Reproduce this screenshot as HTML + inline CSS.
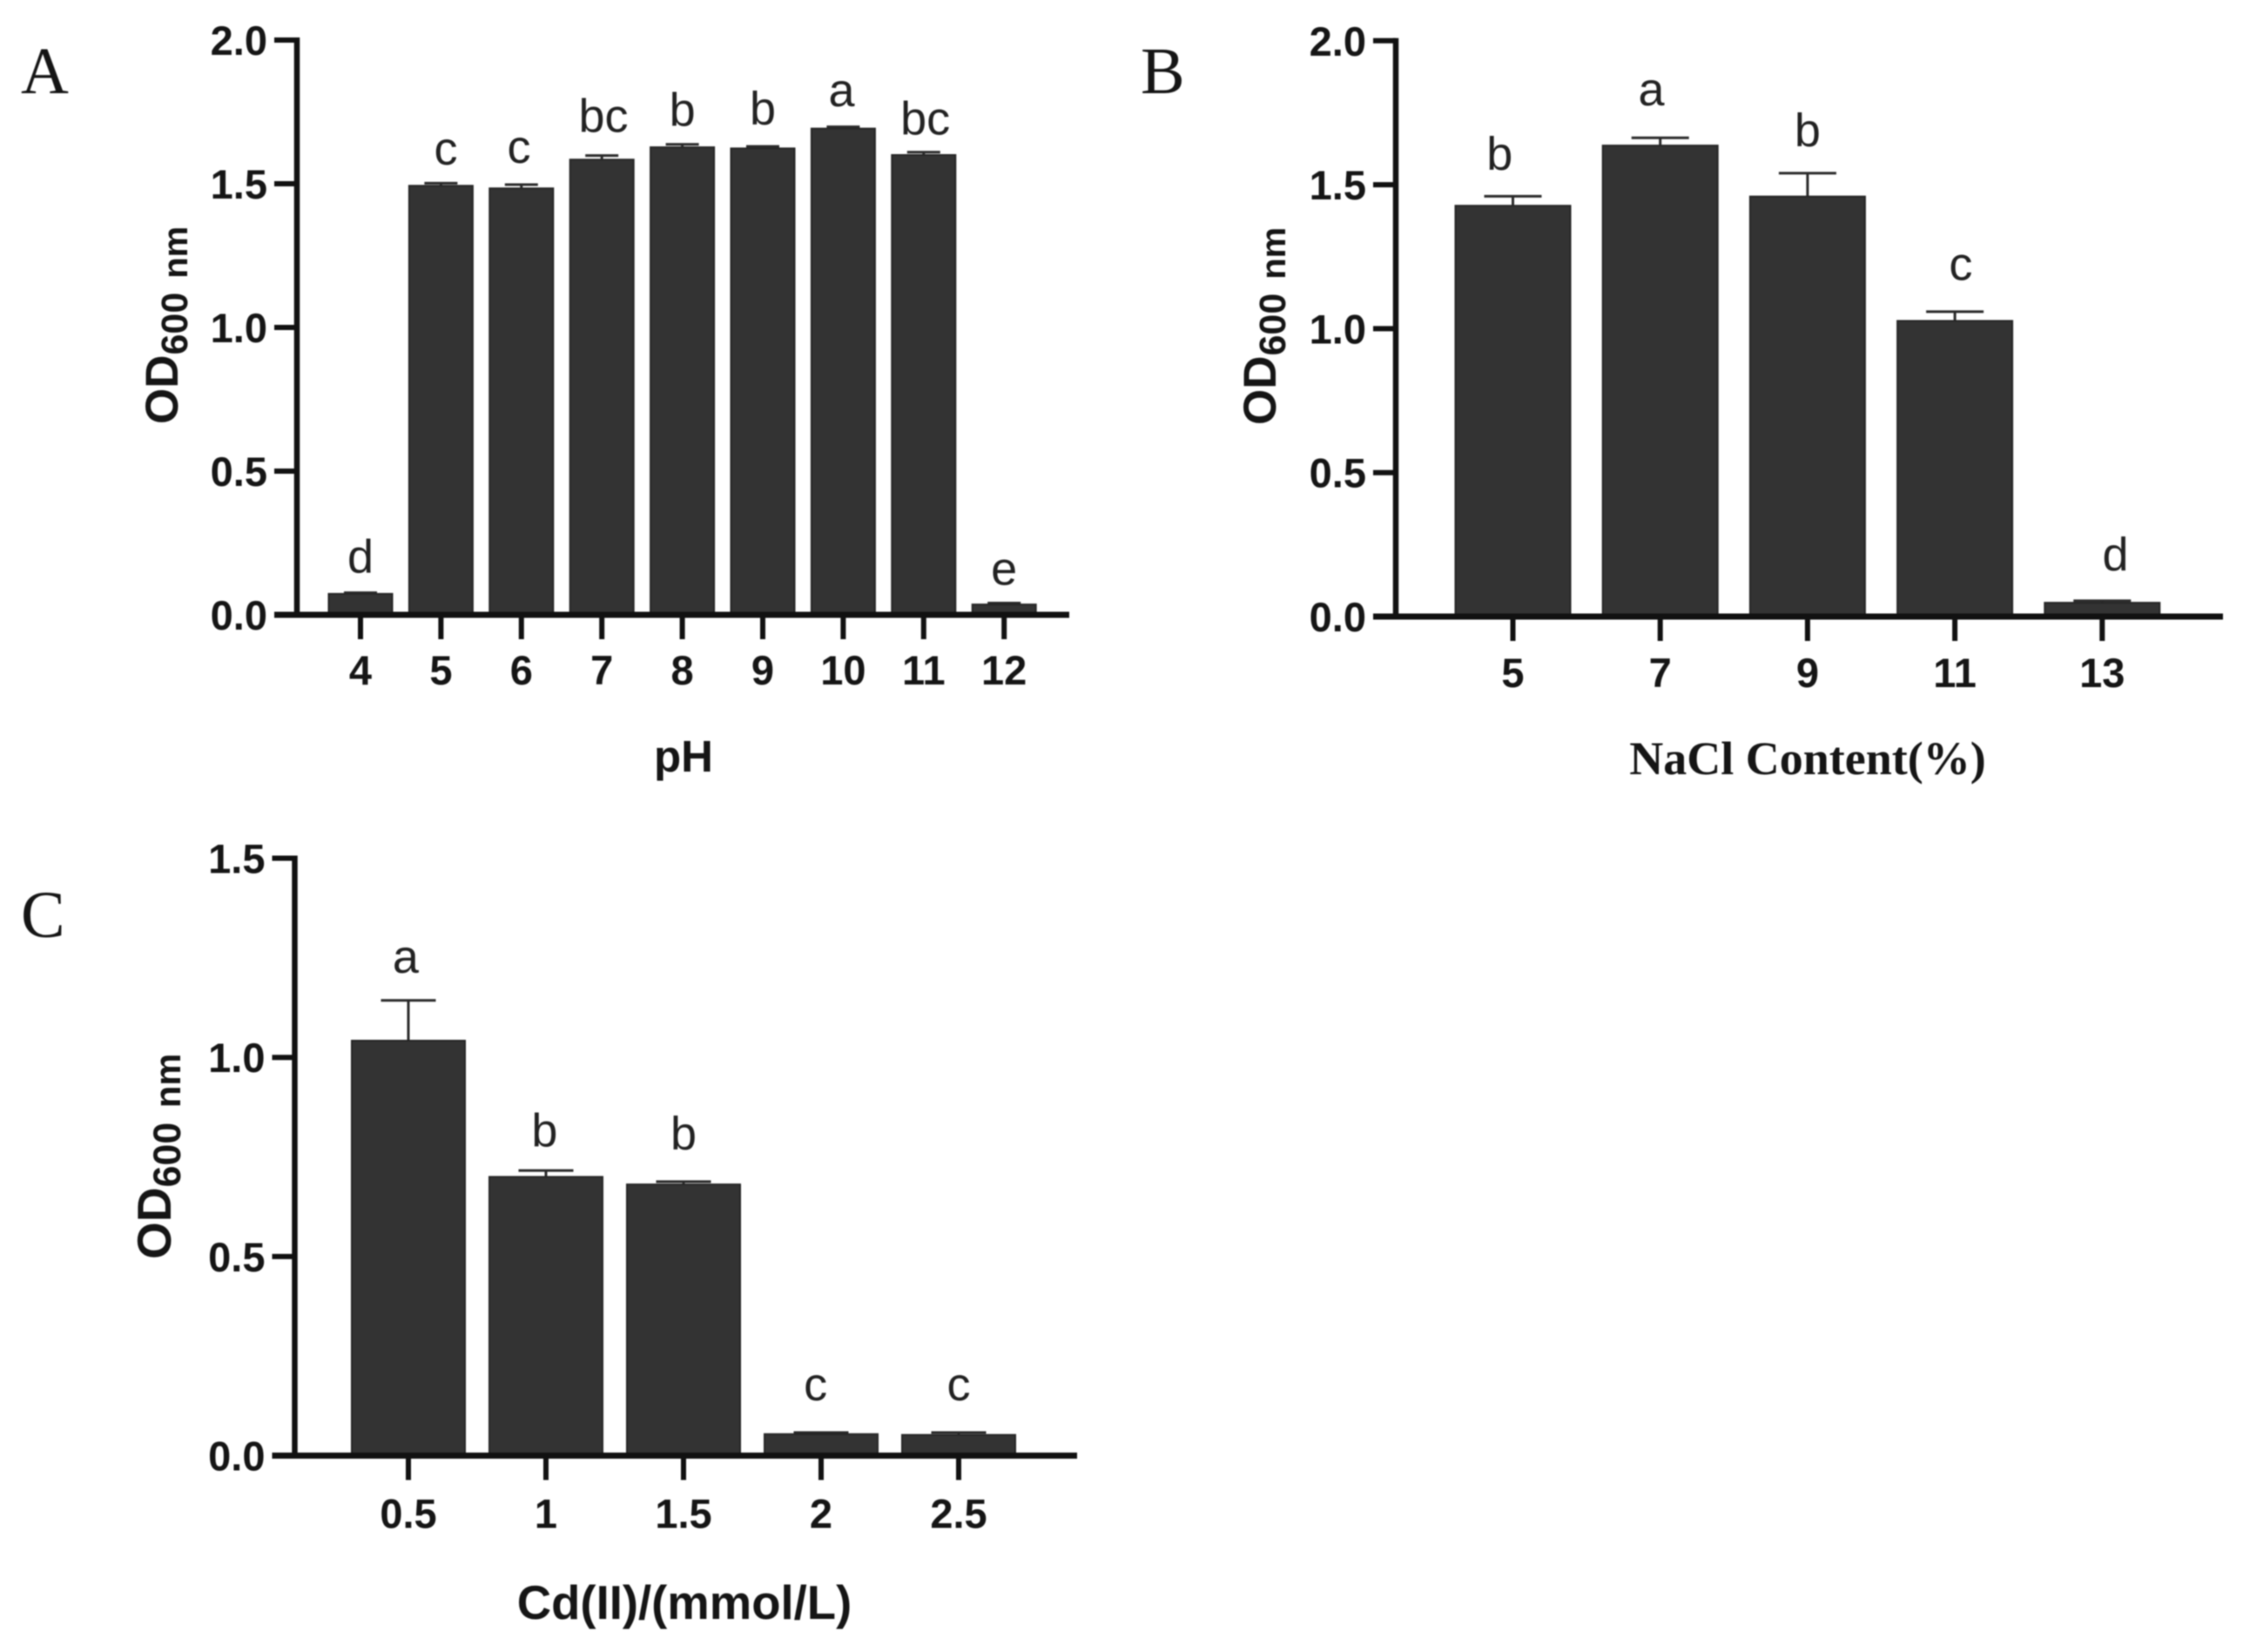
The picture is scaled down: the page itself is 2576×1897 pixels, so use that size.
<!DOCTYPE html>
<html lang="en">
<head>
<meta charset="utf-8">
<title>OD600 growth under pH, NaCl and Cd(II) conditions</title>
<style>
html,body{margin:0;padding:0;background:#fff;width:2576px;height:1897px;overflow:hidden}
svg{display:block;filter:blur(0.8px)}
text{fill:#151515}
.tick{font:bold 47px "Liberation Sans",sans-serif}
.sig{font:54px "Liberation Sans",sans-serif;fill:#222}
.ttl{font:bold 48px "Liberation Sans",sans-serif}
.pl{font:76px "Liberation Serif",serif}
</style>
</head>
<body>
<svg id="figure" xmlns="http://www.w3.org/2000/svg" width="2576" height="1897" viewBox="0 0 2576 1897"></svg>
<script>
/* Panel A data */
const categoriesA = ['4','5','6','7','8','9','10','11','12'];
const valuesA = [0.073,1.493,1.484,1.584,1.627,1.623,1.692,1.600,0.036];
const errorsA = [0.004,0.009,0.013,0.014,0.010,0.007,0.006,0.010,0.005];
const lettersA = ['d','c','c','bc','b','b','a','bc','e'];
const letterLiftA = [0.070,0.064,0.076,0.082,0.065,0.076,0.071,0.061,0.064];
const letterShiftA = [0,0.06,-0.03,0.02,0,0,-0.02,0.02,0];
const yTicksA = [0,0.5,1,1.5,2];

/* Panel B data */
const categoriesB = ['5','7','9','11','13'];
const valuesB = [1.427,1.636,1.459,1.027,0.048];
const errorsB = [0.033,0.027,0.081,0.032,0.007];
const lettersB = ['b','a','b','c','d'];
const letterLiftB = [0.091,0.112,0.094,0.110,0.106];
const letterShiftB = [-0.09,-0.06,0,0.04,0.09];
const yTicksB = [0,0.5,1,1.5,2];

/* Panel C data */
const categoriesC = ['0.5','1','1.5','2','2.5'];
const valuesC = [1.042,0.700,0.681,0.054,0.052];
const errorsC = [0.101,0.016,0.007,0.004,0.006];
const lettersC = ['a','b','b','c','c'];
const letterLiftC = [0.070,0.060,0.081,0.081,0.081];
const letterShiftC = [-0.02,-0.01,0,-0.04,0];
const yTicksC = [0,0.5,1,1.5];

const svg = document.getElementById('figure');
const NS = 'http://www.w3.org/2000/svg';

function el(tag, attrs, parent) {
  const node = document.createElementNS(NS, tag);
  for (const k in attrs) node.setAttribute(k, attrs[k]);
  parent.appendChild(node);
  return node;
}

function drawPanel(p) {
  const g = el('g', {}, svg);
  
  

  const xAt = i => p.firstX + p.step * i;
  const yAt = v => p.baseY - v * p.unitPx;

  p.values.forEach((v, i) => {
    const cx = xAt(i);
    const top = yAt(v);
    const capY = yAt(v + p.errors[i]);

    const whisker = el('line', {x1: cx, x2: cx, y1: capY, y2: top, stroke: '#2a2a2a', 'stroke-width': 3}, g);
    
    

    const cap = el('line', {x1: cx - p.capW / 2, x2: cx + p.capW / 2, y1: capY, y2: capY, stroke: '#2a2a2a', 'stroke-width': 3}, g);
    
    

    const bar = el('rect', {x: cx - p.barW / 2, y: top, width: p.barW, height: p.baseY - top, fill: '#333333', stroke: '#262626', 'stroke-width': 2}, g);
    
    

    const sig = el('text', {class: 'sig', x: cx + p.letterShift[i] * p.step, y: yAt(v + p.errors[i] + p.letterLift[i]), 'text-anchor': 'middle'}, g);
    sig.textContent = p.letters[i];
    
    

    const tick = el('line', {x1: cx, x2: cx, y1: p.baseY, y2: p.baseY + 28, stroke: '#111', 'stroke-width': 6}, g);
    
    

    const label = el('text', {class: 'tick', x: cx, y: p.baseY + p.xLabelDy, 'text-anchor': 'middle'}, g);
    label.textContent = p.categories[i];
    
    
  });

  const xAxis = el('line', {x1: p.axisX - 26, x2: p.axisEnd, y1: p.baseY, y2: p.baseY, stroke: '#111', 'stroke-width': 7}, g);
  
  

  const maxTick = p.yTicks[p.yTicks.length - 1];
  const yAxis = el('line', {x1: p.axisX, x2: p.axisX, y1: yAt(maxTick) - 3, y2: p.baseY, stroke: '#111', 'stroke-width': 6.5}, g);
  
  

  p.yTicks.forEach(t => {
    const ty = yAt(t);
    const tick = el('line', {x1: p.axisX - 26, x2: p.axisX, y1: ty, y2: ty, stroke: '#111', 'stroke-width': 6}, g);
    
    

    const label = el('text', {class: 'tick', x: p.axisX - 34, y: ty + 17, 'text-anchor': 'end'}, g);
    label.textContent = t.toFixed(1);
    
    
  });

  /* y-axis title with subscript */
  const yt = el('text', {transform: 'translate(' + p.yTitleX + ',' + p.yTitleY + ') rotate(-90)', class: 'ttl'}, g);
  
  
  const od = el('tspan', {'font-size': 53 * p.yTitleScale}, yt);
  od.textContent = 'OD';
  const sub = el('tspan', {'font-size': 43 * p.yTitleScale, dy: 11}, yt);
  sub.textContent = '600';
  const unit = el('tspan', {'font-size': 40 * p.yTitleScale, dx: 16 * p.yTitleScale}, yt);
  unit.textContent = 'nm';

  const xt = el('text', {x: p.xTitleX, y: p.xTitleY, 'text-anchor': 'middle', class: 'ttl', style: p.xTitleStyle}, g);
  xt.textContent = p.xTitle;
  
  

  const pl = el('text', {class: 'pl', x: p.panelX, y: p.panelY}, g);
  pl.textContent = p.panel;
  
  
}

drawPanel({
  name: 'panel-a-ph', panel: 'A', panelX: 24, panelY: 107,
  categories: categoriesA, values: valuesA, errors: errorsA, letters: lettersA,
  letterLift: letterLiftA, letterShift: letterShiftA, yTicks: yTicksA,
  firstX: 414, step: 92.4, barW: 73, capW: 38, axisX: 341, axisEnd: 1228, baseY: 706, unitPx: 330,
  xLabelDy: 80, yTitleX: 204, yTitleY: 487, yTitleScale: 1,
  xTitle: 'pH', xTitleX: 785, xTitleY: 886, xTitleStyle: 'font-size:51px'
});

drawPanel({
  name: 'panel-b-nacl', panel: 'B', panelX: 1310, panelY: 107,
  categories: categoriesB, values: valuesB, errors: errorsB, letters: lettersB,
  letterLift: letterLiftB, letterShift: letterShiftB, yTicks: yTicksB,
  firstX: 1737.5, step: 169.2, barW: 132, capW: 66, axisX: 1603, axisEnd: 2553, baseY: 708, unitPx: 330.6,
  xLabelDy: 81, yTitleX: 1465, yTitleY: 488, yTitleScale: 1,
  xTitle: 'NaCl Content(%)', xTitleX: 2076, xTitleY: 889,
  xTitleStyle: 'font-family:"Liberation Serif",serif;font-size:54px'
});

drawPanel({
  name: 'panel-c-cadmium', panel: 'C', panelX: 24, panelY: 1076,
  categories: categoriesC, values: valuesC, errors: errorsC, letters: lettersC,
  letterLift: letterLiftC, letterShift: letterShiftC, yTicks: yTicksC,
  firstX: 469, step: 158, barW: 130, capW: 63, axisX: 338.5, axisEnd: 1237, baseY: 1671.5, unitPx: 457.3,
  xLabelDy: 83, yTitleX: 196, yTitleY: 1446, yTitleScale: 1.04,
  xTitle: 'Cd(II)/(mmol/L)', xTitleX: 786, xTitleY: 1859, xTitleStyle: 'font-size:54.5px'
});
</script>
</body>
</html>
